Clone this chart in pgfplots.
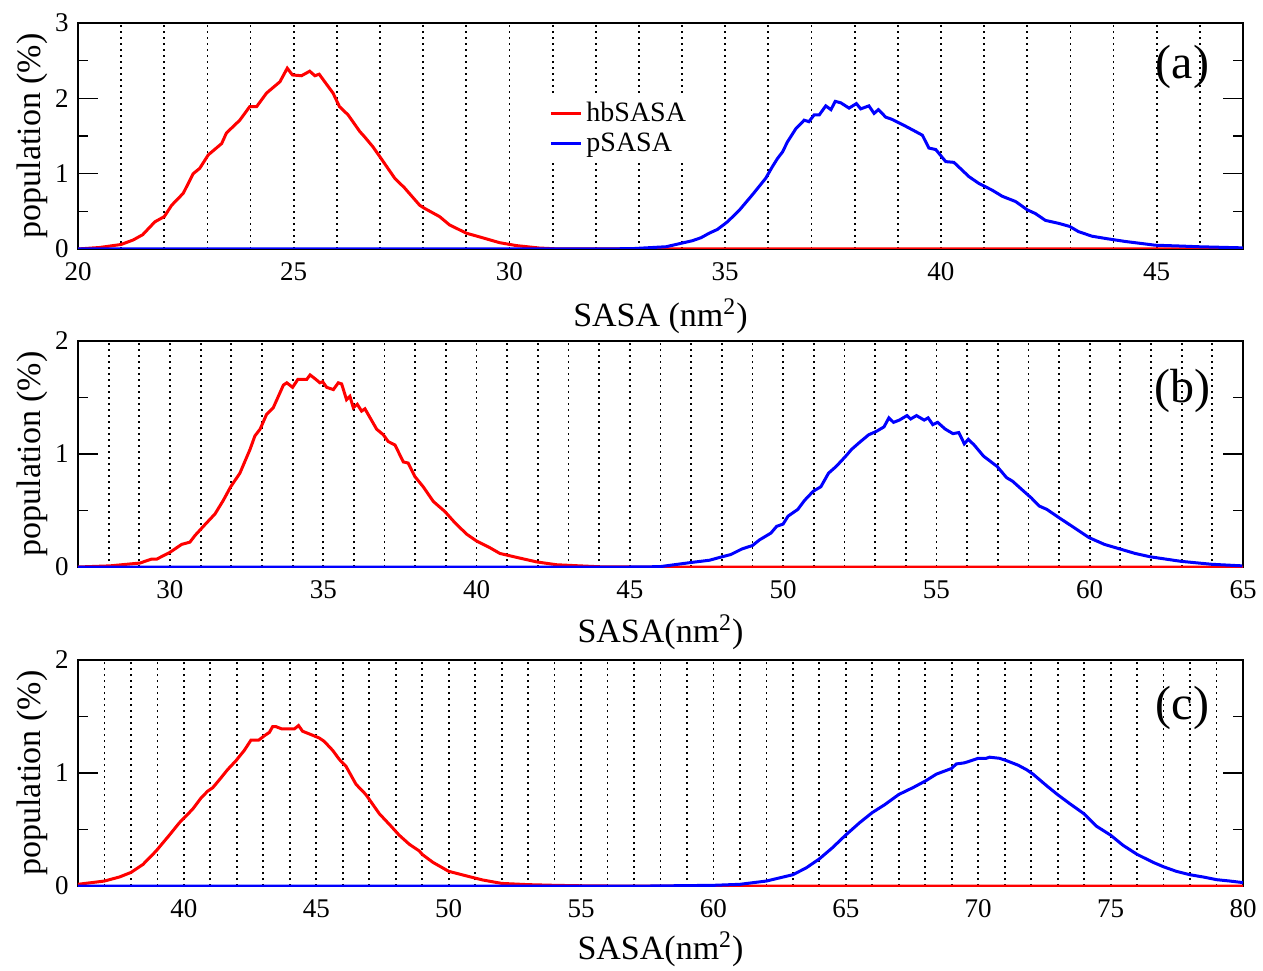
\documentclass[border=0pt]{standalone}
\usepackage{fontspec}
\setmainfont{Liberation Serif}
\usepackage{pgfplots}
\pgfplotsset{compat=1.18}

\pgfplotsset{
  panel/.style={
    scale only axis, width=582.5pt, height=113pt, anchor=south west,
    axis line style={line width=1pt},
    every tick/.style={black, line width=0.8pt},
    major tick length=10pt, minor tick length=5pt,
    xtick style={draw=none},
    ytick pos=both,
    xmajorgrids, xminorgrids,
    major grid style={black, line width=0.9pt, dash pattern=on 0.9pt off 2.1pt},
    minor grid style={black, line width=0.9pt, dash pattern=on 0.9pt off 2.1pt},
    ymin=0,
    tick label style={font=\fontsize{13.5}{15}\selectfont, inner sep=1pt},
    xticklabel style={yshift=-5.5pt},
    yticklabel style={xshift=-3.5pt},
    label style={font=\fontsize{17}{20}\selectfont},
    /pgf/number format/assume math mode=true,
    ylabel={population (\%)},
    ylabel style={at={(axis description cs:-0.0395,0.5)}, anchor=center, rotate=0},
    every axis plot/.append style={line width=1.5pt},
  }
}

\begin{document}
\begin{tikzpicture}
\useasboundingbox (0,0) rectangle (631.5pt,485pt);

% ---------------- (a)
\begin{axis}[panel, at={(39pt,360.5pt)},
  xmin=20, xmax=47, ymax=3,
  xtick={20,25,30,35,40,45},
  minor xtick={21,22,23,24,26,27,28,29,31,32,33,34,36,37,38,39,41,42,43,44,46},
  ytick={0,1,2,3}, minor ytick={0.5,1.5,2.5},
  xlabel={SASA (nm\textsuperscript{2})},
  xlabel style={at={(axis description cs:0.5,-0.345)}, anchor=base},
  legend style={at={(axis description cs:0.465,0.535)}, anchor=center, draw=none, fill=white,
    font=\fontsize{14}{15}\selectfont, row sep=0pt, inner xsep=6pt},
  legend cell align=left,
  legend image code/.code={\draw[#1] (0pt,0pt) -- (15pt,0pt);},
]
\addplot[red] coordinates {
(20,0) (20.5,0.02) (21.0,0.06) (21.28,0.12) (21.5,0.19) (21.78,0.36) (22.0,0.43) (22.17,0.58) (22.44,0.74)
(22.67,1.0) (22.82,1.07) (23.02,1.25) (23.33,1.40) (23.44,1.54) (23.75,1.71) (23.98,1.89)
(24.14,1.89) (24.37,2.07) (24.68,2.22) (24.85,2.40) (24.97,2.31) (25.18,2.30) (25.37,2.36)
(25.49,2.30) (25.59,2.32) (25.91,2.07) (26.06,1.89) (26.26,1.78) (26.53,1.56) (26.64,1.49)
(26.83,1.36) (26.99,1.23) (27.34,0.94) (27.57,0.81) (27.92,0.58) (28.03,0.54) (28.38,0.43)
(28.61,0.32) (29.0,0.21) (29.31,0.16) (29.77,0.084) (30.16,0.045) (30.69,0.013) (31.05,0.003)
(32,0) (47,0)};
\addlegendentry{hbSASA}
\addplot[blue] coordinates {
(20,0) (32,0) (32.85,0.005) (33.01,0.01) (33.63,0.03) (34.01,0.08) (34.24,0.11) (34.44,0.15)
(34.63,0.21) (34.82,0.26) (35.05,0.36) (35.32,0.51) (35.63,0.72) (35.94,0.94) (36.09,1.09)
(36.21,1.20) (36.33,1.29) (36.44,1.42) (36.64,1.60) (36.83,1.71) (36.94,1.69) (37.06,1.78)
(37.18,1.78) (37.33,1.90) (37.45,1.85) (37.55,1.96) (37.68,1.94) (37.87,1.87) (38.04,1.93)
(38.14,1.86) (38.33,1.90) (38.45,1.80) (38.55,1.85) (38.72,1.75) (38.87,1.72) (39.18,1.63)
(39.41,1.56) (39.57,1.51) (39.72,1.34) (39.88,1.32) (40.11,1.16) (40.30,1.15) (40.65,0.96)
(40.88,0.87) (41.19,0.78) (41.42,0.70) (41.73,0.63) (42.0,0.52) (42.19,0.47) (42.42,0.38)
(42.73,0.34) (42.98,0.30) (43.19,0.23) (43.50,0.17) (43.81,0.14) (44.27,0.10) (44.97,0.05)
(45.51,0.04) (45.97,0.03) (47,0.015)};
\addlegendentry{pSASA}
\node[font=\fontsize{24}{26}\selectfont] at (rel axis cs:0.948,0.805) {(a)};
\end{axis}

% ---------------- (b)
\begin{axis}[panel, at={(39pt,201.5pt)},
  xmin=27, xmax=65, ymax=2,
  xtick={30,35,40,45,50,55,60,65},
  minor xtick={28,29,31,32,33,34,36,37,38,39,41,42,43,44,46,47,48,49,51,52,53,54,56,57,58,59,61,62,63,64},
  ytick={0,1,2}, minor ytick={0.5,1.5},
  xlabel={SASA(nm\textsuperscript{2})},
  xlabel style={at={(axis description cs:0.5,-0.336)}, anchor=base},
]
\addplot[red] coordinates {
(27,0) (28.04,0.01) (29.02,0.035) (29.40,0.07) (29.57,0.07) (30.0,0.13) (30.38,0.20) (30.65,0.22)
(30.82,0.28) (31.09,0.36) (31.47,0.47) (31.74,0.59) (31.98,0.71) (32.28,0.83) (32.61,1.04)
(32.77,1.16) (32.94,1.22) (33.15,1.35) (33.37,1.41) (33.70,1.61) (33.81,1.63) (34.0,1.59)
(34.17,1.66) (34.46,1.66) (34.57,1.70) (34.76,1.66) (34.89,1.63) (34.98,1.64) (35.11,1.59)
(35.33,1.57) (35.49,1.63) (35.60,1.62) (35.76,1.48) (35.87,1.51) (35.98,1.41) (36.11,1.44)
(36.25,1.38) (36.36,1.40) (36.74,1.22) (36.96,1.17) (37.12,1.11) (37.34,1.08) (37.61,0.93)
(37.77,0.92) (37.99,0.80) (38.26,0.71) (38.59,0.58) (38.97,0.49) (39.30,0.39) (39.68,0.29)
(40.0,0.23) (40.44,0.17) (40.76,0.12) (41.31,0.085) (41.96,0.045) (42.61,0.02) (43.37,0.01)
(44.03,0.002) (45,0) (65,0)};
\addplot[blue] coordinates {
(27,0) (45,0) (45.98,0.003) (47,0.04) (47.6,0.06) (48.0,0.09) (48.29,0.11) (48.66,0.16) (49.0,0.19)
(49.23,0.24) (49.6,0.30) (49.79,0.36) (50.0,0.38) (50.16,0.45) (50.48,0.51) (50.7,0.59)
(50.98,0.67) (51.23,0.71) (51.48,0.83) (51.73,0.89) (52.04,0.98) (52.23,1.04) (52.48,1.10)
(52.79,1.17) (53.04,1.20) (53.29,1.24) (53.45,1.32) (53.6,1.28) (53.79,1.30) (54.04,1.34)
(54.16,1.31) (54.35,1.34) (54.6,1.30) (54.73,1.32) (54.88,1.26) (55.04,1.28) (55.29,1.22)
(55.54,1.18) (55.73,1.19) (55.91,1.09) (56.04,1.13) (56.23,1.08) (56.54,0.98) (56.98,0.89)
(57.29,0.79) (57.48,0.76) (57.85,0.67) (58.1,0.61) (58.35,0.54) (58.6,0.51) (58.98,0.44)
(59.48,0.35) (59.98,0.26) (60.48,0.20) (60.98,0.16) (61.48,0.12) (61.98,0.09) (62.98,0.05)
(63.98,0.024) (64.98,0.01)};
\node[font=\fontsize{24}{26}\selectfont] at (rel axis cs:0.948,0.78) {(b)};
\end{axis}

% ---------------- (c)
\begin{axis}[panel, at={(39pt,42pt)},
  xmin=36, xmax=80, ymax=2,
  xtick={40,45,50,55,60,65,70,75,80},
  minor xtick={37,38,39,41,42,43,44,46,47,48,49,51,52,53,54,56,57,58,59,61,62,63,64,66,67,68,69,71,72,73,74,76,77,78,79},
  ytick={0,1,2}, minor ytick={0.5,1.5},
  xlabel={SASA(nm\textsuperscript{2})},
  xlabel style={at={(axis description cs:0.5,-0.326)}, anchor=base},
]
\addplot[red] coordinates {
(36,0.015) (37.0,0.044) (37.57,0.08) (38.0,0.12) (38.45,0.19) (38.95,0.31) (39.45,0.45) (39.83,0.56)
(40.08,0.62) (40.33,0.68) (40.65,0.78) (40.9,0.84) (41.09,0.87) (41.34,0.94) (41.65,1.03)
(41.97,1.11) (42.28,1.20) (42.53,1.29) (42.82,1.29) (43.04,1.33) (43.23,1.36) (43.35,1.41)
(43.48,1.41) (43.7,1.39) (43.92,1.39) (44.17,1.39) (44.33,1.42) (44.48,1.37) (44.8,1.34)
(45.11,1.31) (45.3,1.28) (45.62,1.20) (45.87,1.12) (46.12,1.06) (46.5,0.90) (46.87,0.81)
(47.38,0.64) (47.82,0.53) (48.13,0.45) (48.51,0.37) (48.89,0.31) (49.0,0.28) (49.4,0.21)
(50.0,0.13) (50.66,0.09) (51.29,0.053) (52.0,0.023) (53.0,0.012) (54.0,0.006) (55,0.002)
(56,0) (80,0)};
\addplot[blue] coordinates {
(36,0) (57.6,0) (60.0,0.006) (61.0,0.015) (62.0,0.044) (63.0,0.10) (63.5,0.16) (64.0,0.24)
(64.5,0.34) (64.99,0.45) (65.52,0.56) (66.0,0.65) (66.47,0.72) (67.0,0.81) (67.53,0.87)
(68.01,0.93) (68.42,0.99) (68.99,1.04) (69.17,1.08) (69.48,1.09) (70.0,1.13) (70.3,1.13)
(70.43,1.14) (70.81,1.13) (71.06,1.11) (71.5,1.07) (71.82,1.03) (72.07,0.99) (72.57,0.89)
(72.99,0.81) (73.45,0.73) (73.99,0.64) (74.46,0.53) (75.0,0.45) (75.47,0.36) (76.0,0.28)
(76.6,0.21) (77.0,0.17) (77.48,0.13) (77.99,0.10) (78.49,0.08) (79.0,0.056) (79.5,0.044)
(80.0,0.03)};
\node[font=\fontsize{24}{26}\selectfont] at (rel axis cs:0.948,0.79) {(c)};
\end{axis}
\end{tikzpicture}
\end{document}
